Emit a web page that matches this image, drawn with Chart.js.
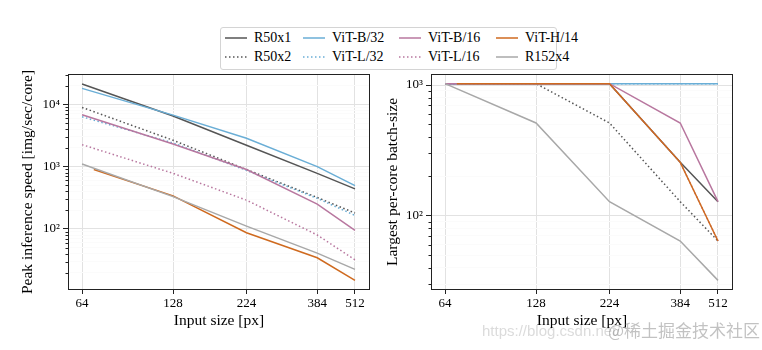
<!DOCTYPE html>
<html>
<head>
<meta charset="utf-8">
<script src="https://cdn.jsdelivr.net/npm/chart.js@4/dist/chart.umd.min.js"></script>
<style>
  body { margin: 0; width: 762px; height: 350px; background: #fff; position: relative; overflow: hidden; font-family: "Liberation Serif", serif; }
  #speed, #batch { position: absolute; top: 70px; }
  #speed { left: 0; }
  #batch { left: 380px; }
  #legend { position: absolute; left: 220px; top: 27px; width: 335px; height: 41px; border: 1px solid #d4d4d4; border-radius: 3px; }
  .item { position: absolute; height: 18px; font-size: 14px; line-height: 18px; color: #000; white-space: nowrap; padding-left: 29px; }
  .swatch { position: absolute; left: 0; top: 6px; }
  #wm1 { position: absolute; left: 482px; top: 322px; font: 15px/17px "Liberation Sans", sans-serif; color: rgba(190,190,190,0.55); }
  #wm2 { position: absolute; left: 608px; top: 320px; font: 17px/20px "Noto Sans CJK SC", sans-serif; color: rgba(120,120,120,0.45); }
</style>
</head>
<body>
<div id="legend"></div>
<canvas id="speed" width="380" height="280"></canvas>
<canvas id="batch" width="382" height="280"></canvas>
<div id="wm1">https://blog.csdn.net/</div>
<div id="wm2">@稀土掘金技术社区</div>
<script>
// input sizes (ViT-H/14 starts a bit above 64)
var sizes = [64, 128, 224, 384, 512];
var hSizes = [70, 128, 224, 384, 512];

var names  = ['R50x1', 'R50x2', 'ViT-B/32', 'ViT-L/32', 'ViT-B/16', 'ViT-L/16', 'ViT-H/14', 'R152x4'];
var colors = ['#555555', '#555555', '#6aaed6', '#6aaed6', '#b8779f', '#b8779f', '#cf6a1f', '#a8a8a8'];
var dotted = [false, true, false, true, false, true, false, false];

// peak inference speed [img/sec/core]
var speedR50x1  = [21200, 6500, 2200, 780, 440];
var speedR50x2  = [8900, 2650, 900, 320, 180];
var speedB32    = [18000, 6700, 2850, 1000, 495];
var speedL32    = [6300, 2400, 870, 310, 165];
var speedB16    = [6800, 2300, 900, 250, 95];
var speedL16    = [2250, 780, 290, 80, 32];
var speedH14    = [900, 340, 87, 34.5, 15];
var speedR152x4 = [1100, 330, 111, 41, 22.5];

// largest per-core batch size
var batchR50x1  = [1024, 1024, 1024, 256, 128];
var batchR50x2  = [1024, 1024, 512, 128, 64];
var batchB32    = [1024, 1024, 1024, 1024, 1024];
var batchL32    = [1024, 1024, 1024, 1024, 1024];
var batchB16    = [1024, 1024, 1024, 512, 128];
var batchL16    = [1024, 1024, 1024, 256, 64];
var batchH14    = [1024, 1024, 1024, 256, 64];
var batchR152x4 = [1024, 512, 128, 64, 32];

var speedSeries = [speedR50x1, speedR50x2, speedB32, speedL32, speedB16, speedL16, speedH14, speedR152x4];
var batchSeries = [batchR50x1, batchR50x2, batchB32, batchL32, batchB16, batchL16, batchH14, batchR152x4];

var FONT = '"Liberation Serif", "Times New Roman", serif';
var SUP = {'0': '⁰', '1': '¹', '2': '²', '3': '³', '4': '⁴', '5': '⁵'};
var DOTS = [1.5, 2.5];

function isMajor(v) {
    var l = Math.log10(v);
    return Math.abs(l - Math.round(l)) < 1e-9;
}

function logTicks(min, max) {
    var out = [];
    for (var e = Math.floor(Math.log10(min)); e <= Math.ceil(Math.log10(max)); e++) {
        for (var m = 1; m < 10; m++) {
            var v = m * Math.pow(10, e);
            if (v >= min && v <= max) out.push({value: v});
        }
    }
    return out;
}

// legend, column-major like matplotlib ncol=4
(function buildLegend() {
    var box = document.getElementById('legend');
    var cols = [4, 82, 178, 275];
    var rows = [1, 20];
    for (var i = 0; i < names.length; i++) {
        var item = document.createElement('div');
        item.className = 'item';
        item.style.left = cols[Math.floor(i / 2)] + 'px';
        item.style.top = rows[i % 2] + 'px';
        var sw = document.createElement('canvas');
        sw.className = 'swatch';
        sw.width = 22;
        sw.height = 6;
        var c = sw.getContext('2d');
        c.strokeStyle = colors[i];
        c.lineWidth = 1.5;
        c.setLineDash(dotted[i] ? DOTS : []);
        c.beginPath();
        c.moveTo(0, 3);
        c.lineTo(22, 3);
        c.stroke();
        item.appendChild(sw);
        item.appendChild(document.createTextNode(names[i]));
        box.appendChild(item);
    }
})();

// box around plot + short minor ticks on the y axis
var framePlugin = {
    id: 'frame',
    afterDraw: function (chart) {
        var ctx = chart.ctx, a = chart.chartArea, y = chart.scales.y;
        ctx.save();
        ctx.strokeStyle = '#222';
        ctx.lineWidth = 1;
        y.ticks.forEach(function (t) {
            if (isMajor(t.value)) return;
            var py = Math.round(y.getPixelForValue(t.value)) + 0.5;
            ctx.beginPath();
            ctx.moveTo(a.left - 2.5, py);
            ctx.lineTo(a.left, py);
            ctx.stroke();
        });
        ctx.strokeRect(Math.round(a.left) + 0.5, Math.round(a.top) + 0.5,
            Math.round(a.right - a.left) - 1, Math.round(a.bottom - a.top) - 1);
        ctx.restore();
    }
};

function makeChart(id, series, yMin, yMax, yTitle, yWidth, rightPad, titlePad) {
    var datasets = series.map(function (vals, i) {
        var xs = names[i] === 'ViT-H/14' ? hSizes : sizes;
        return {
            label: names[i],
            data: vals.map(function (v, j) { return {x: xs[j], y: v}; }),
            borderColor: colors[i],
            borderWidth: 1.5,
            borderDash: dotted[i] ? DOTS : [],
            pointRadius: 0,
            fill: false,
            tension: 0,
            order: -i
        };
    });

    return new Chart(document.getElementById(id).getContext('2d'), {
        type: 'line',
        data: {datasets: datasets},
        options: {
            responsive: false,
            animation: false,
            events: [],
            layout: {padding: {top: 4, right: rightPad, left: 0, bottom: 0}},
            plugins: {legend: {display: false}, tooltip: {enabled: false}},
            scales: {
                x: {
                    type: 'logarithmic',
                    min: 57.5,
                    max: 574,
                    afterBuildTicks: function (s) { s.ticks = sizes.map(function (v) { return {value: v}; }); },
                    afterFit: function (s) { s.height = 60; s.paddingLeft = 0; s.paddingRight = 0; },
                    ticks: {
                        autoSkip: false, maxRotation: 0, padding: 2, color: '#000',
                        font: {family: FONT, size: 13},
                        callback: function (v) { return String(v); }
                    },
                    grid: {color: '#e2e2e2', tickColor: '#222', tickLength: 4},
                    border: {display: false},
                    title: {display: true, text: 'Input size [px]', color: '#000',
                        font: {family: FONT, size: 15.5}, padding: {top: 0, bottom: 20}}
                },
                y: {
                    type: 'logarithmic',
                    min: yMin,
                    max: yMax,
                    afterBuildTicks: function (s) { s.ticks = logTicks(yMin, yMax); },
                    afterFit: function (s) { s.width = yWidth; s.paddingTop = 0; s.paddingBottom = 0; },
                    ticks: {
                        autoSkip: false, padding: 3, color: '#000',
                        font: {family: FONT, size: 13},
                        callback: function (v) {
                            if (!isMajor(v)) return '';
                            return '10' + SUP[String(Math.round(Math.log10(v)))];
                        }
                    },
                    grid: {
                        color: function (c) { return c.tick && isMajor(c.tick.value) ? '#e2e2e2' : '#fbfbfb'; },
                        tickColor: function (c) { return c.tick && isMajor(c.tick.value) ? '#222' : 'rgba(0,0,0,0)'; },
                        tickLength: 5
                    },
                    border: {display: false},
                    title: {display: true, text: yTitle, color: '#000',
                        font: {family: FONT, size: 15.5}, padding: {top: titlePad, bottom: 0}}
                }
            }
        },
        plugins: [framePlugin]
    });
}

makeChart('speed', speedSeries, 10.5, 30600, 'Peak inference speed [img/sec/core]', 68, 10, 19);
makeChart('batch', batchSeries, 27, 1214, 'Largest per-core batch-size', 51, 29, 4);
</script>
</body>
</html>
